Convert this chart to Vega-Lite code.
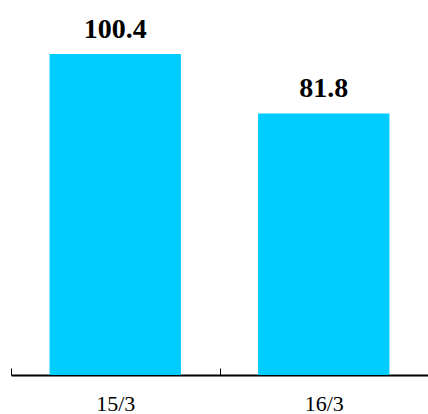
{
  "$schema": "https://vega.github.io/schema/vega-lite/v6.json",
  "autosize": "none",
  "width": 417,
  "height": 375,
  "padding": {"left": 11, "top": 0, "right": 0, "bottom": 39},
  "background": "white",
  "config": {"view": {"stroke": null}},
  "data": {"values": [
    {"date": "15/3", "value": 100.4, "label": "100.4"},
    {"date": "16/3", "value": 81.8, "label": "81.8"}
  ]},
  "encoding": {
    "x": {"field": "date", "type": "nominal", "sort": null,
      "scale": {"paddingInner": 0, "paddingOuter": 0},
      "axis": {"title": null, "labelAngle": 0, "tickBand": "extent", "tickSize": -7, "tickColor": "black", "tickWidth": 1,
        "domainColor": "black", "domainWidth": 2, "labelFont": "Times New Roman, Liberation Serif, serif", "labelFontSize": 22, "labelColor": "black", "labelPadding": 25}},
    "y": {"field": "value", "type": "quantitative", "scale": {"domain": [0, 117.3]}, "axis": null}
  },
  "layer": [
    {"mark": {"type": "bar", "color": "#00CCFF", "width": {"band": 0.63}}},
    {"mark": {"type": "text", "font": "Times New Roman, Liberation Serif, serif", "fontWeight": "bold", "fontSize": 28, "color": "black", "baseline": "alphabetic", "dy": -16},
     "encoding": {"text": {"field": "label"}}}
  ]
}
